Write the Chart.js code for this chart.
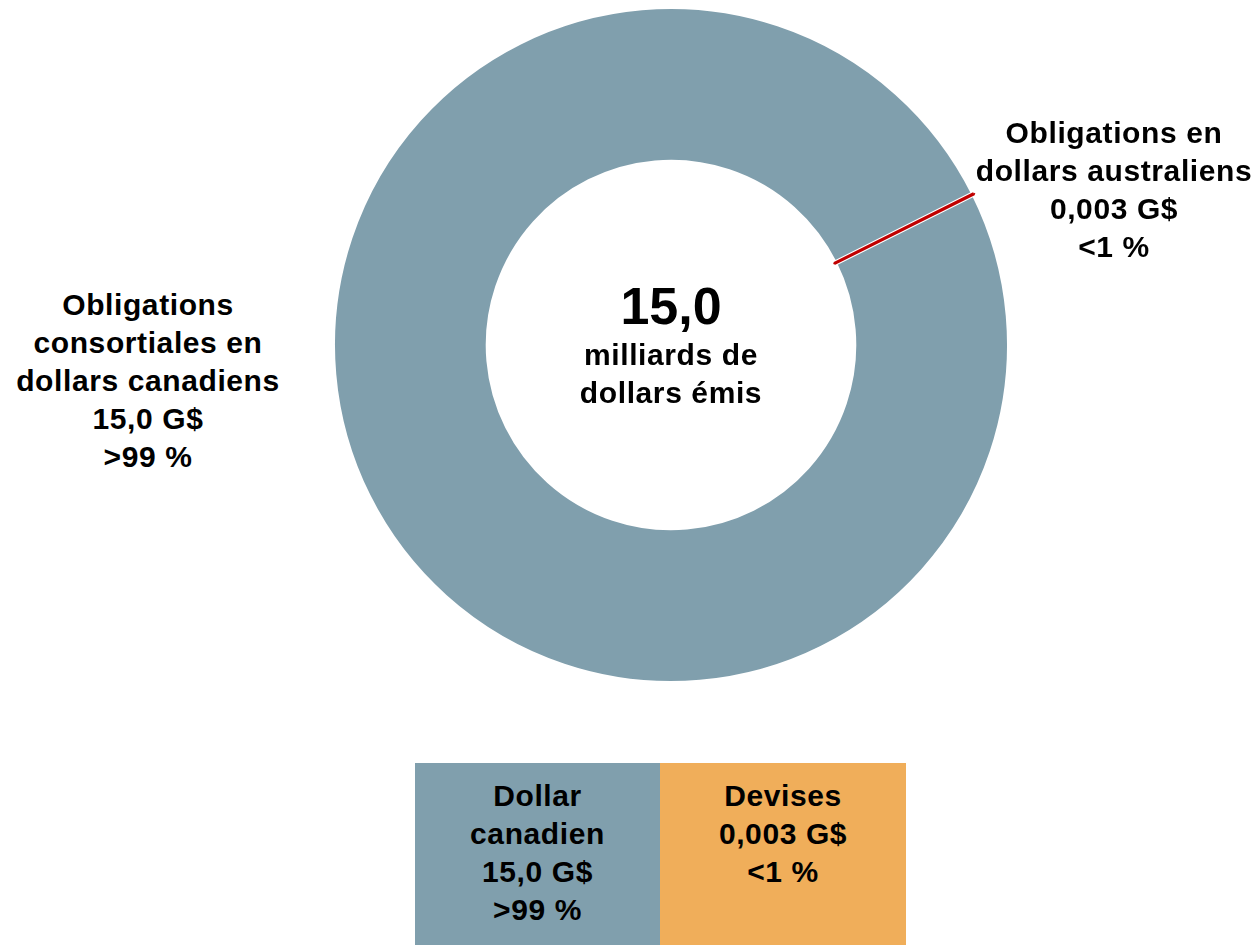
<!DOCTYPE html>
<html lang="fr">
<head>
<meta charset="utf-8">
<script src="https://cdn.jsdelivr.net/npm/chart.js@4"></script>
<style>
    html, body { margin: 0; padding: 0; background: #fff; }
    body { width: 1260px; height: 945px; position: relative; overflow: hidden;
           font-family: "Liberation Sans", Arial, sans-serif; font-weight: bold; color: #000; }
    #wrap { position: absolute; left: 330px; top: 4px; width: 682px; height: 682px; }
    .lbl { position: absolute; text-align: center; font-size: 30px; line-height: 38px;
           letter-spacing: 0.6px; transform: translateX(-50%); white-space: nowrap; }
    #centre { position: absolute; left: 671px; top: 276px; transform: translateX(-50%);
              text-align: center; white-space: nowrap; }
    #centre .big { font-size: 52px; line-height: 60px; }
    #centre .sub { font-size: 30px; line-height: 38px; letter-spacing: 0.6px; }
    .box { position: absolute; top: 763px; height: 182px; width: 245px; text-align: center;
           font-size: 30px; line-height: 38px; letter-spacing: 0.6px; padding-top: 14px; box-sizing: border-box; }
</style>
</head>
<body>
<div id="wrap"><canvas id="donut"></canvas></div>
<div id="centre"></div>
<div id="lblCad" class="lbl" style="left:148px; top:286px;"></div>
<div id="lblAud" class="lbl" style="left:1114px; top:114px;"></div>
<div id="boxCad" class="box" style="left:415px;"></div>
<div id="boxDev" class="box" style="left:660px; width:246px;"></div>

<script>
// Donut data (billions of dollars)
const categories = ['Obligations consortiales en dollars canadiens', 'Obligations en dollars australiens'];
const values = [15.0, 0.003];
const sliceColors = ['#809fad', '#c00000'];

// Label text shown next to the slices
const cadLines = ['Obligations', 'consortiales en', 'dollars canadiens', '15,0 G$', '>99 %'];
const audLines = ['Obligations en', 'dollars australiens', '0,003 G$', '<1 %'];
const centreBig = '15,0';
const centreSub = ['milliards de', 'dollars émis'];

// Currency summary boxes
const boxLabels = [['Dollar', 'canadien', '15,0 G$', '>99 %'], ['Devises', '0,003 G$', '<1 %']];
const boxColors = ['#809fad', '#f0ae5a'];

document.getElementById('lblCad').innerHTML = cadLines.join('<br>');
document.getElementById('lblAud').innerHTML = audLines.join('<br>');
document.getElementById('centre').innerHTML =
    '<div class="big">' + centreBig + '</div><div class="sub">' + centreSub.join('<br>') + '</div>';

['boxCad', 'boxDev'].forEach((id, i) => {
    const el = document.getElementById(id);
    el.innerHTML = boxLabels[i].join('<br>');
    el.style.background = boxColors[i];
});

new Chart(document.getElementById('donut'), {
    type: 'doughnut',
    data: {
        labels: categories,
        datasets: [{
            data: values,
            backgroundColor: sliceColors,
            borderColor: ['#ffffff', '#c00000'],
            borderWidth: [5, 3],
            hoverBorderWidth: [5, 3],
            borderAlign: 'center'
        }]
    },
    options: {
        responsive: true,
        maintainAspectRatio: true,
        aspectRatio: 1,
        animation: false,
        cutout: '54%',
        rotation: 63.5,
        layout: { padding: 0 },
        plugins: {
            legend: { display: false },
            tooltip: { enabled: false }
        }
    }
});
</script>
</body>
</html>
